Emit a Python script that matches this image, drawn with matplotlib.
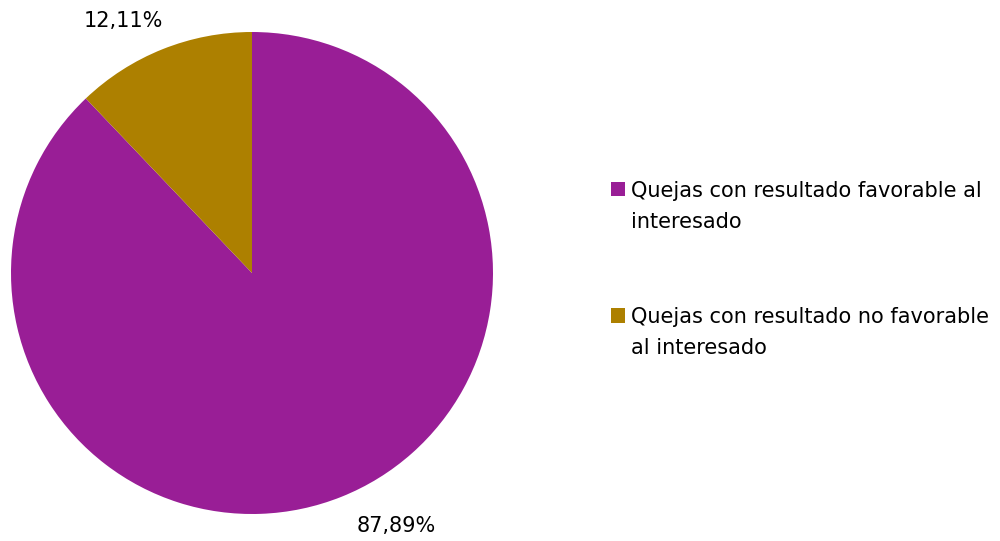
import matplotlib.pyplot as plt
from matplotlib.patches import Patch, Rectangle
from matplotlib.legend_handler import HandlerPatch

# Datos del grafico
categorias = ['Quejas con resultado favorable al\ninteresado',
              'Quejas con resultado no favorable\nal interesado']
porcentajes = [87.89, 12.11]
etiquetas = ['87,89%', '12,11%']
colores = ['#991E96', '#AD8000']

plt.rcParams['font.family'] = ['DejaVu Sans']

fig = plt.figure(figsize=(10, 5.41), dpi=100)
ax = fig.add_axes([11 / 1000, (541 - 514) / 541, 482 / 1000, 482 / 541])

wedges, _ = ax.pie(porcentajes, colors=colores, startangle=90,
                   counterclock=False, radius=1.0)
ax.set_xlim(-1, 1)
ax.set_ylim(-1, 1)
ax.set_aspect('equal')

# Etiquetas de porcentaje (posiciones como en el original)
ax.text(0.60, -1.05, etiquetas[0], ha='center', va='center', fontsize=15)
ax.text(-0.535, 1.045, etiquetas[1], ha='center', va='center', fontsize=15)


# cuadrado alineado con la primera linea del texto
def cuadro_arriba(legend, orig_handle, xdescent, ydescent, width, height, fontsize):
    return Rectangle((-xdescent, -ydescent + 13), width, height)


handles = [Patch(facecolor=c, edgecolor='none') for c in colores]
leg = fig.legend(handles, categorias, loc='upper left',
                 bbox_to_anchor=(611 / 1000, 1 - 181 / 541),
                 frameon=False, fontsize=15, handlelength=0.68, handleheight=0.68,
                 handletextpad=0.3, labelspacing=3.6, borderpad=0,
                 borderaxespad=0,
                 handler_map={Patch: HandlerPatch(patch_func=cuadro_arriba)})
for t in leg.get_texts():
    t.set_linespacing(1.7)

fig.savefig('out.png', dpi=100)
